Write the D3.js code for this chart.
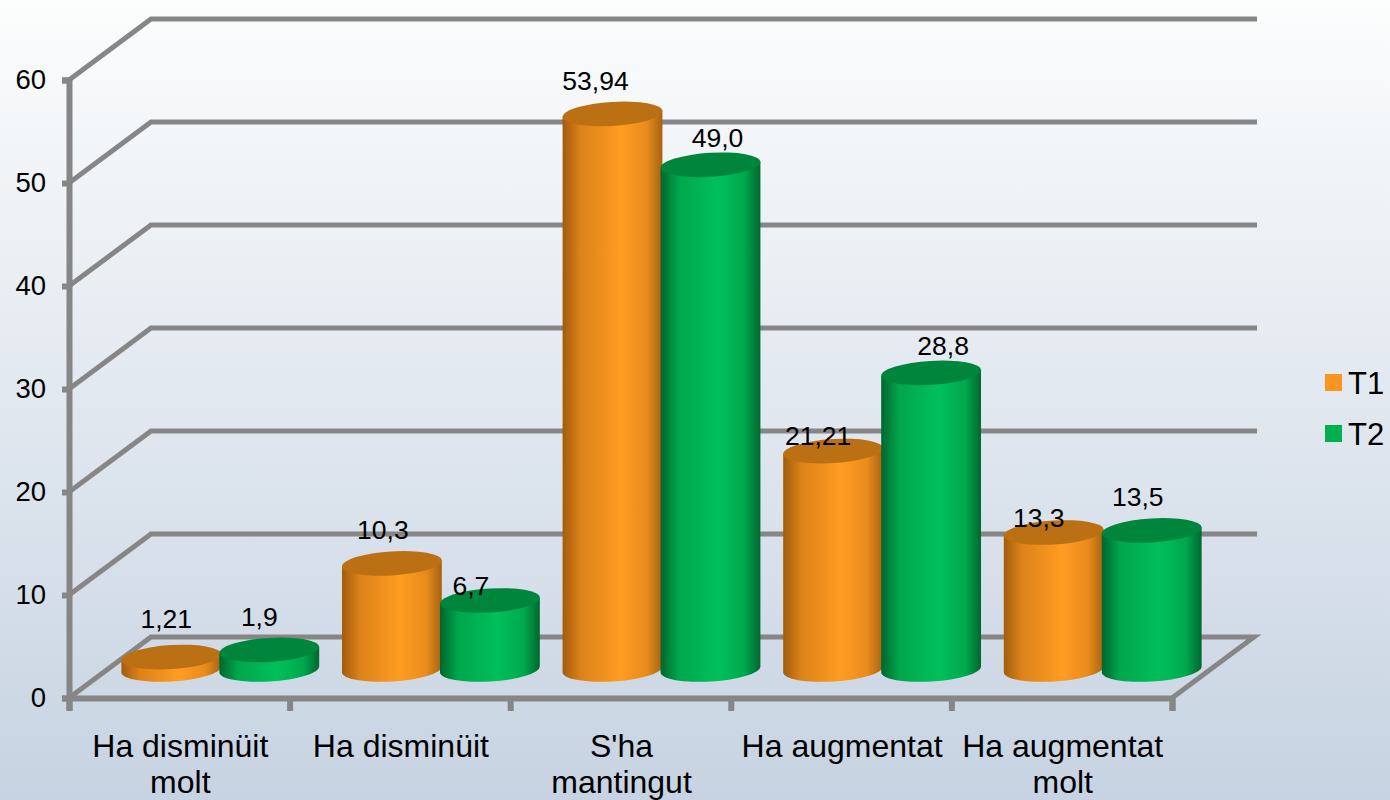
<!DOCTYPE html>
<html>
<head>
<meta charset="utf-8">
<script src="https://cdn.jsdelivr.net/npm/d3@7"></script>
<style>
  html, body { margin: 0; padding: 0; overflow: hidden; }
  text { font-family: "Liberation Sans", Arial, sans-serif; fill: #000; }
</style>
</head>
<body>
<div id="chart-area"></div>
<script>
// Data
var categories = ["Ha disminüit molt", "Ha disminüit", "S'ha mantingut", "Ha augmentat", "Ha augmentat molt"];
var categoryLines = [["Ha disminüit", "molt"], ["Ha disminüit"], ["S'ha", "mantingut"], ["Ha augmentat"], ["Ha augmentat", "molt"]];
var seriesNames = ["T1", "T2"];
var t1Values = [1.21, 10.3, 53.94, 21.21, 13.3];
var t2Values = [1.9, 6.7, 49.0, 28.8, 13.5];
var t1Labels = ["1,21", "10,3", "53,94", "21,21", "13,3"];
var t2Labels = ["1,9", "6,7", "49,0", "28,8", "13,5"];
var yTicks = [0, 10, 20, 30, 40, 50, 60];

// Hand placed label offsets, same as the original chart
var t1Nudge = [[-5, -29], [-9, -24], [-17, -24], [-15, -6], [-15, -6]];
var t2Nudge = [[-10, -24], [-19, -5], [7, -18], [12, -18], [-14, -24]];

var width = 1390, height = 800;
var left = 69, right = 1172, floorY = 698, topY = 80;
var depthX = 82, depthY = 61;
var barShiftX = 41, barShiftY = 28.5;
var rx = 50, ry = 12, tilt = -3.5;
var lineColor = "#868686";

var svg = d3.select("#chart-area")
    .append("svg")
    .attr("width", width)
    .attr("height", height)
    .style("display", "block");

var defs = svg.append("defs");

// Background
var bg = defs.append("linearGradient")
    .attr("id", "bg")
    .attr("x1", 0).attr("x2", 0).attr("y1", 0).attr("y2", 1);
bg.append("stop").attr("offset", "0%").attr("stop-color", "#fcfdfd");
bg.append("stop").attr("offset", "100%").attr("stop-color", "#c7d3e2");

svg.append("rect")
    .attr("width", width)
    .attr("height", height)
    .attr("fill", "url(#bg)");

// Cylinder shading
var shades = {
    T1: { top: "#bc7014", legend: "#fb9420", stops: ["#a25c0e", "#dc8219", "#ff9c22", "#e98c1d", "#a86210"] },
    T2: { top: "#00863c", legend: "#00b050", stops: ["#00662e", "#00a64d", "#00c05a", "#00a84e", "#00672f"] }
};
var stopAt = ["0%", "18%", "58%", "84%", "100%"];

seriesNames.forEach(function(name) {
    var grad = defs.append("linearGradient").attr("id", "body" + name);
    shades[name].stops.forEach(function(c, i) {
        grad.append("stop").attr("offset", stopAt[i]).attr("stop-color", c);
    });
});

// Scales
var y = d3.scaleLinear().domain([0, 60]).range([floorY, topY]);
var xTicks = d3.scaleLinear().domain([0, categories.length]).range([left, right]);
var x = d3.scaleBand().domain(categories).range([left, right]);
var xInner = d3.scaleBand().domain(seriesNames).range([-98, 98]);

var g = svg.append("g").attr("fill", "none");

// Back wall lines, with the diagonal down to the front axis
yTicks.forEach(function(d) {
    if (d === 0) return;
    g.append("path")
        .attr("d", d3.line()([[left, y(d)], [left + depthX, y(d) - depthY], [right + depthX + 3, y(d) - depthY]]))
        .attr("stroke", lineColor)
        .attr("stroke-width", 5);
});

// Floor
g.append("path")
    .attr("d", d3.line()([[left, y(0)], [left + depthX, y(0) - depthY], [right + depthX, y(0) - depthY], [right, y(0)]]))
    .attr("stroke", lineColor)
    .attr("stroke-width", 5);

// Axes
var yAxis = svg.append("g")
    .attr("transform", "translate(" + left + ",0)")
    .call(d3.axisLeft(y).tickValues(yTicks).tickSize(7).tickPadding(16));

var xAxis = svg.append("g")
    .attr("transform", "translate(0," + floorY + ")")
    .call(d3.axisBottom(xTicks).ticks(categories.length).tickFormat("").tickSize(13));

svg.selectAll(".domain").attr("stroke", lineColor).attr("stroke-width", 6);
svg.selectAll(".tick line").attr("stroke", lineColor).attr("stroke-width", 6);
yAxis.selectAll("text").attr("font-size", "27.5px").style("font-family", "'Liberation Sans', Arial, sans-serif");

// Category labels
var catLabels = svg.selectAll(".cat").data(categories).enter()
    .append("text")
    .attr("class", "cat")
    .attr("text-anchor", "middle")
    .attr("font-size", "32px")
    .attr("y", 757);

catLabels.selectAll("tspan")
    .data(function(d, i) { return categoryLines[i].map(function(t) { return { text: t, cat: d }; }); })
    .enter().append("tspan")
    .attr("x", function(d) { return x(d.cat) + x.bandwidth() / 2 + 1; })
    .attr("dy", function(d, i) { return i === 0 ? 0 : 36; })
    .text(function(d) { return d.text; });

// Cylinders
var bars = [];
categories.forEach(function(c, i) {
    bars.push({ cat: c, series: "T1", value: t1Values[i], label: t1Labels[i], nudge: t1Nudge[i] });
    bars.push({ cat: c, series: "T2", value: t2Values[i], label: t2Labels[i], nudge: t2Nudge[i] });
});

function cx(d) { return x(d.cat) + x.bandwidth() / 2 + barShiftX + xInner(d.series) + xInner.bandwidth() / 2; }
function baseY() { return y(0) - barShiftY; }
function topOf(d) { return y(d.value) - barShiftY; }

var ex = rx * Math.cos(tilt * Math.PI / 180);
var ey = rx * Math.sin(tilt * Math.PI / 180);

var cyl = svg.selectAll(".cyl").data(bars).enter()
    .append("g")
    .attr("class", "cyl");

cyl.append("path")
    .attr("fill", function(d) { return "url(#body" + d.series + ")"; })
    .attr("d", function(d) {
        var c = cx(d), t = topOf(d), b = baseY();
        return "M" + (c - ex) + "," + (t - ey)
            + "L" + (c - ex) + "," + (b - ey)
            + "A" + rx + "," + ry + " " + tilt + " 0 0 " + (c + ex) + "," + (b + ey)
            + "L" + (c + ex) + "," + (t + ey) + "Z";
    });

cyl.append("ellipse")
    .attr("rx", rx)
    .attr("ry", ry)
    .attr("fill", function(d) { return shades[d.series].top; })
    .attr("transform", function(d) {
        return "translate(" + cx(d) + "," + topOf(d) + ") rotate(" + tilt + ")";
    });

// Value labels
svg.selectAll(".val").data(bars).enter()
    .append("text")
    .attr("class", "val")
    .attr("text-anchor", "middle")
    .attr("font-size", "26.5px")
    .attr("x", function(d) { return cx(d) + d.nudge[0]; })
    .attr("y", function(d) { return topOf(d) + d.nudge[1]; })
    .text(function(d) { return d.label; });

// Legend
var legend = svg.selectAll(".leg").data(seriesNames).enter()
    .append("g")
    .attr("class", "leg")
    .attr("transform", function(d, i) { return "translate(1325," + (374 + i * 51) + ")"; });

legend.append("rect")
    .attr("width", 17)
    .attr("height", 17)
    .attr("fill", function(d) { return shades[d].legend; });

legend.append("text")
    .attr("x", 23)
    .attr("y", 19.5)
    .attr("font-size", "31px")
    .text(function(d) { return d; });
</script>
</body>
</html>
